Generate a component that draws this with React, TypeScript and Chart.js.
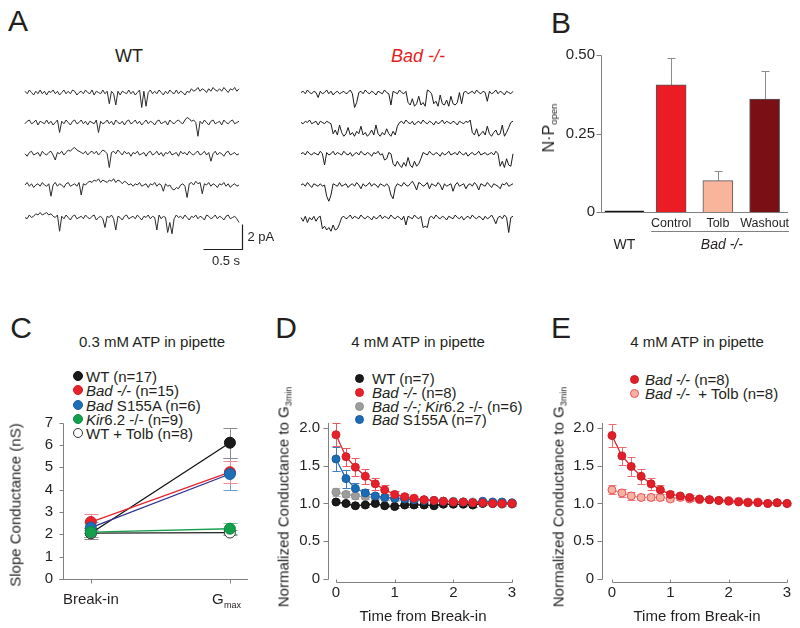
import React, { useEffect, useRef } from "react";
import { Chart, registerables } from "chart.js";

Chart.register(...registerables);

const FONT = "'Liberation Sans', Arial, Helvetica, sans-serif";
const INK = "#231f20";
const AXIS = "#808080";
Chart.defaults.font.family = FONT;
Chart.defaults.color = INK;

/* ---------------- Panel A: single-channel traces (values in 0.1 pA) ---------------- */
const TRACE_DURATION_S = 2.74;
const traceRowOffsets = [-10, -34, -59, -84, -110];

const wtTrace1 = [
  1,-1,2,0,-2,1,-1,2,-1,1, -2,1,0,2,-1,1,-2,0,2,-1, 1,-1,2,1,-2,0,1,-1,2,0, -1,2,-2,1,0,-1,2,-1,1,-9,
  1,-1,-10,1,-2,1,0,-1,2,-1, 1,-2,0,2,-12,1,-11,0,2,-1, 1,-1,2,0,-2,1,-1,2,0,-1, 2,-1,1,0,-2,1,0,3,1,2,
  4,1,3,2,0,3,1,4,2,1, 3,1,4,2,0,3,2,4,1,3,
];
const wtTrace2 = [
  -1,1,2,-1,0,2,-2,1,0,-1, 2,-1,1,-2,0,2,-8,1,-1,2, 0,-2,1,2,-1,0,2,-1,1,-2, 1,0,-1,2,-8,1,-1,0,2,-1,
  1,-2,2,0,-1,1,-2,1,2,-1, 0,2,-1,1,-2,0,2,-1,1,0, -2,1,2,-1,0,1,-2,2,0,-1, 1,2,0,-1,2,4,3,1,2,0,
  -11,1,-1,2,0,-2,1,2,-1,0, 1,-2,2,0,-1,1,2,-1,0,1,
];
const wtTrace3 = [
  0,-2,1,2,-1,0,1,-2,2,0, -1,1,2,-1,-5,1,0,2,-1,1, 3,2,4,5,3,2,1,0,2,-1, 1,2,0,2,-1,1,3,2,0,-11,
  1,2,0,3,1,-1,2,0,1,-2, 1,0,2,-1,0,1,-2,1,2,-1, 0,2,-1,1,-2,1,0,2,-1,0, 1,-2,2,0,1,-1,2,0,-1,1,
  2,-1,0,2,-1,1,-6,0,2,-1, 1,0,-2,1,2,-1,0,1,-1,0,
];
const wtTrace4 = [
  0,2,-1,1,-2,0,1,-1,2,0, -1,1,-9,0,2,-1,1,0,-2,1, 2,-1,0,1,-1,2,-8,1,0,2, 3,2,4,3,5,2,4,3,2,4,
  3,5,2,4,3,1,3,2,0,1, -1,1,0,2,-1,0,1,-2,1,0, 2,-1,1,0,-5,1,-1,0,-3,-4, -2,-3,0,1,-1,-10,1,2,0,3,
  1,2,-7,1,0,2,-1,1,0,-2, 1,0,2,-1,1,-2,0,1,-1,0,
];
const wtTrace5 = [
  0,-1,2,0,1,3,2,4,2,3, 4,2,3,1,0,2,-11,1,-1,2, 0,-2,1,2,-1,0,1,-1,2,0, -1,1,2,-2,0,1,-1,-8,1,0,
  2,-1,-10,1,0,-2,1,2,-1,0, 1,-1,2,0,-2,1,0,2,-1,1, 0,-10,2,-1,1,0,-12,-4,-13,-1, 2,0,1,-1,2,0,-2,1,0,2,
  -1,1,0,-2,2,1,-1,0,2,-1, 1,0,-2,1,2,-1,0,1,-1,-4,
];

const badTrace1 = [
  0,1,-1,2,0,-1,1,0,-4,1, -1,0,2,-1,1,-2,0,1,-1,0, 1,-1,0,2,-1,-12,-8,0,1,-1, 2,0,-1,1,0,-2,1,0,-1,2,
  0,-1,-10,1,0,-1,2,0,-1,1, -8,-10,-5,-11,-9,-3,-10,-8,-11,2, 1,-1,-9,-7,-11,-2,-9,-10,-6,-11, -3,-9,-10,-8,0,-9,0,1,-1,0,
  1,-1,2,0,-1,1,0,-7,1,-1, 0,2,-1,1,0,-2,1,0,-1,1,
];
const badTrace2 = [
  0,-1,1,0,2,-1,0,1,-2,1, 0,-1,1,0,-1,-9,-6,-10,-2,-8, -11,-9,-4,-10,-8,-11,-7,-9,-3,-10, -8,-11,-9,-6,-10,-2,-9,-11,-8,-10,
  -5,-9,-11,-7,-10,-3,0,1,-1,2, 0,-1,1,-2,0,1,-1,2,0,-1, 1,0,-2,1,-1,0,2,-1,1,0, -1,1,0,-2,1,0,-1,1,0,2,
  -8,-10,-5,-11,-9,-7,-10,-3,-9,-11, -8,-6,-10,-9,-2,-11,-8,-4,0,1,
];
const badTrace3 = [
  0,1,-1,2,0,-1,1,0,-1,2, 0,-9,1,-1,0,2,-1,1,0,-1, 2,0,-1,1,-2,0,1,-1,2,0, -1,1,0,-2,1,0,2,-1,0,-5,
  -4,1,0,-8,-10,-6,-9,-11,-7,-10, -3,-9,-11,-6,-10,-8,-4,1,0,-1, 2,0,-1,1,0,-2,1,-1,0,2, -1,0,1,-1,2,0,-1,1,-2,0,
  1,-1,0,2,-1,0,1,-1,0,1, -1,2,0,-10,-6,-11,-4,-9,-10,0,
];
const badTrace4 = [
  0,1,-1,2,0,-2,1,0,-1,1, -1,0,-9,-13,-8,1,0,-1,2,-1, 0,1,-2,0,1,-1,2,0,-3,1, -1,0,2,-1,1,0,-2,1,0,-1,
  1,-1,-8,-11,-2,1,0,-1,2,0, -1,1,3,0,-4,2,1,-1,0,2, -3,1,0,-1,2,0,-4,1,-1,0, 1,-5,0,2,-1,0,1,-3,0,1,
  -1,2,0,-4,1,0,-1,2,0,-2, 1,0,-1,-3,1,0,2,-1,0,1,
];
const badTrace5 = [
  0,-3,1,-4,0,-2,1,-3,0,1, -9,-7,-10,-8,-11,-6,-10,-9,-5,0, 1,-1,0,2,-1,1,0,-1,2,0, -1,1,0,-2,1,-1,0,2,-1,1,
  0,-1,2,0,-1,1,0,-2,1,-6, 1,0,-1,2,0,-1,1,-8,-7,-8, 0,1,-1,2,0,-1,1,0,-2,1, 0,-1,2,0,-1,1,-2,0,1,-1,
  2,0,-1,1,0,-2,1,-1,0,2, -1,-5,0,1,-1,2,0,-12,0,1,
];

const wtTraces = [wtTrace1, wtTrace2, wtTrace3, wtTrace4, wtTrace5];
const badTraces = [badTrace1, badTrace2, badTrace3, badTrace4, badTrace5];

const SCALEBAR_END_S = 2.78;
const SCALEBAR_BASE = -135;
const SCALEBAR_TIME_S = 0.5;
const SCALEBAR_CURRENT = 20; // 2 pA in 0.1 pA units

/* ---------------- Panel B ---------------- */
const bCategories = ["WT", "Control", "Tolb", "Washout"];
const bGroupLabel = "Bad -/-";
const bValues = [0.004, 0.405, 0.1, 0.36];
const bErrors = [0, 0.085, 0.03, 0.09];
const bColors = ["#111111", "#ec1c24", "#f8b59c", "#7a1015"];
const bYTicks = [0, 0.25, 0.5];

/* ---------------- Panel C ---------------- */
const cXTicks = [0, 1]; // Break-in, Gmax
const cYTicks = [0, 1, 2, 3, 4, 5, 6, 7];
const cWT = [2.05, 6.1];
const cWTErr = [0.25, 0.68];
const cBad = [2.55, 4.78];
const cBadErr = [0.35, 0.5];
const cS155A = [2.3, 4.7];
const cS155AErr = [0.25, 0.72];
const cKir = [2.1, 2.25];
const cKirErr = [0.2, 0.25];
const cTolb = [2.05, 2.08];
const cTolbErr = [0.15, 0.12];

/* ---------------- Panels D & E ---------------- */
const timePoints = [0, 0.17, 0.33, 0.5, 0.67, 0.83, 1, 1.17, 1.33, 1.5, 1.67, 1.83, 2, 2.17, 2.33, 2.5, 2.67, 2.83, 3];
const timeTicks = [0, 1, 2, 3];
const normTicks = [0, 0.5, 1, 1.5, 2];

const dBad = [1.91, 1.62, 1.48, 1.36, 1.26, 1.18, 1.12, 1.09, 1.07, 1.05, 1.04, 1.03, 1.02, 1.02, 1.01, 1.01, 1.0, 1.0, 1.0];
const dBadErr = [0.15, 0.12, 0.12, 0.1, 0.08, 0.06, 0.04, 0.03, 0.03, 0.02, 0.02, 0.02, 0.02, 0.02, 0.02, 0.01, 0.01, 0.01, 0.01];
const dS155A = [1.59, 1.33, 1.2, 1.14, 1.1, 1.08, 1.07, 1.06, 1.05, 1.04, 1.04, 1.03, 1.02, 1.02, 1.01, 1.03, 1.02, 1.02, 1.01];
const dS155AErr = [0.16, 0.12, 0.07, 0.05, 0.04, 0.03, 0.03, 0.03, 0.02, 0.02, 0.02, 0.02, 0.02, 0.02, 0.02, 0.02, 0.02, 0.02, 0.02];
const dKir = [1.15, 1.12, 1.1, 1.09, 1.08, 1.07, 1.06, 1.06, 1.05, 1.05, 1.04, 1.03, 1.03, 1.02, 1.02, 1.01, 1.0, 0.99, 0.99];
const dKirErr = [0.05, 0.04, 0.04, 0.03, 0.03, 0.03, 0.03, 0.02, 0.02, 0.02, 0.02, 0.02, 0.02, 0.02, 0.02, 0.02, 0.02, 0.02, 0.02];
const dWT = [1.02, 1.0, 0.97, 0.98, 1.0, 0.97, 0.96, 0.98, 0.98, 0.98, 0.97, 0.99, 0.99, 0.99, 0.98, 1.0, 1.0, 1.0, 1.0];
const dWTErr = [0.02, 0.02, 0.02, 0.02, 0.02, 0.02, 0.02, 0.02, 0.02, 0.02, 0.02, 0.02, 0.02, 0.02, 0.02, 0.02, 0.02, 0.02, 0.02];

const eBad = [1.9, 1.63, 1.49, 1.36, 1.26, 1.18, 1.12, 1.1, 1.08, 1.06, 1.05, 1.04, 1.03, 1.02, 1.01, 1.01, 1.0, 1.01, 1.0];
const eBadErr = [0.15, 0.12, 0.12, 0.1, 0.08, 0.06, 0.04, 0.03, 0.03, 0.02, 0.02, 0.02, 0.02, 0.02, 0.02, 0.02, 0.01, 0.01, 0.01];
const eTolb = [1.18, 1.14, 1.1, 1.08, 1.08, 1.08, 1.06, 1.08, 1.06, 1.05, 1.05, 1.04, 1.04, 1.03, 1.02, 1.02, 1.0, 1.01, 1.0];
const eTolbErr = [0.06, 0.05, 0.05, 0.04, 0.04, 0.04, 0.03, 0.03, 0.03, 0.02, 0.02, 0.02, 0.02, 0.02, 0.02, 0.02, 0.02, 0.02, 0.02];

/* ---------------- helpers ---------------- */
const px = (v: number) => Math.round(v) + 0.5;
const fixedTicks = (values: number[]) => (scale: any) => {
  scale.ticks = values.map((v) => ({ value: v }));
};
const baseOptions = {
  responsive: false,
  animation: false,
  devicePixelRatio: 1,
  events: [],
  plugins: { legend: { display: false }, tooltip: { enabled: false }, title: { display: false } },
};

const errorBarPlugin = {
  id: "errorBars",
  beforeDatasetsDraw(chart: any) {
    const { ctx } = chart;
    const ys = chart.scales.y;
    chart.data.datasets.forEach((ds: any, i: number) => {
      if (!ds.errors) return;
      const meta = chart.getDatasetMeta(i);
      ctx.save();
      ctx.strokeStyle = ds.errColor;
      ctx.lineWidth = 1;
      ctx.beginPath();
      meta.data.forEach((el: any, j: number) => {
        const raw = ds.data[j];
        const val = raw == null ? null : typeof raw === "number" ? raw : raw.y;
        const e = ds.errors[j];
        if (val == null || !e) return;
        const x = px(el.x);
        const top = px(ys.getPixelForValue(val + e));
        const bot = px(ys.getPixelForValue(ds.errUpOnly ? val : val - e));
        const h = ds.capWidth / 2;
        ctx.moveTo(x, bot);
        ctx.lineTo(x, top);
        ctx.moveTo(x - h, top);
        ctx.lineTo(x + h, top);
        if (!ds.errUpOnly) {
          ctx.moveTo(x - h, bot);
          ctx.lineTo(x + h, bot);
        }
      });
      ctx.stroke();
      ctx.restore();
    });
  },
};

/* ---------------- Panel A config ---------------- */
const scaleBarPlugin = {
  id: "scaleBar",
  afterDraw(chart: any) {
    const { ctx, scales } = chart;
    const { x, y } = scales;
    const x1 = px(x.getPixelForValue(SCALEBAR_END_S));
    const x0 = px(x.getPixelForValue(SCALEBAR_END_S - SCALEBAR_TIME_S));
    const yb = px(y.getPixelForValue(SCALEBAR_BASE));
    const yt = px(y.getPixelForValue(SCALEBAR_BASE + SCALEBAR_CURRENT));
    ctx.save();
    ctx.strokeStyle = INK;
    ctx.lineWidth = 1.2;
    ctx.beginPath();
    ctx.moveTo(x0, yb);
    ctx.lineTo(x1, yb);
    ctx.lineTo(x1, yt);
    ctx.stroke();
    ctx.fillStyle = INK;
    ctx.font = `13px ${FONT}`;
    ctx.textBaseline = "middle";
    ctx.textAlign = "left";
    ctx.fillText("2 pA", x1 + 5, (yb + yt) / 2);
    ctx.textAlign = "center";
    ctx.fillText("0.5 s", (x0 + x1) / 2 + 3, yb + 12);
    ctx.restore();
  },
};

function traceConfig(traces: number[][], color: string, padL: number, padR: number, extra: any[]) {
  return {
    type: "line",
    data: {
      datasets: traces.map((t, k) => ({
        data: t.map((v, i) => ({ x: (i * TRACE_DURATION_S) / (t.length - 1), y: v + traceRowOffsets[k] })),
        borderColor: color,
        borderWidth: 1,
        pointRadius: 0,
        tension: 0,
        fill: false,
        clip: false,
      })),
    },
    options: {
      ...baseOptions,
      layout: { padding: { left: padL, right: padR, top: 10, bottom: 40 } },
      scales: {
        x: { type: "linear", display: false, min: 0, max: TRACE_DURATION_S },
        y: { type: "linear", display: false, min: -120, max: 0 },
      },
    },
    plugins: extra,
  };
}

/* ---------------- Panel B config ---------------- */
const barAxesPlugin = {
  id: "barAxes",
  afterDatasetsDraw(chart: any) {
    const { ctx, chartArea, scales } = chart;
    const { x, y } = scales;
    const lx = px(chartArea.left);
    const y0 = px(y.getPixelForValue(0));
    ctx.save();
    ctx.strokeStyle = AXIS;
    ctx.lineWidth = 1;
    ctx.beginPath();
    ctx.moveTo(lx, px(y.getPixelForValue(bYTicks[bYTicks.length - 1])));
    ctx.lineTo(lx, y0);
    bYTicks.forEach((v) => {
      const p = px(y.getPixelForValue(v));
      ctx.moveTo(lx - 5, p);
      ctx.lineTo(lx, p);
    });
    ctx.moveTo(lx, y0);
    ctx.lineTo(chartArea.right, y0);
    const by = px(y0 + 18);
    ctx.moveTo(x.getPixelForValue(1) - 20, by);
    ctx.lineTo(chartArea.right + 1, by);
    ctx.stroke();
    ctx.fillStyle = INK;
    ctx.textAlign = "center";
    ctx.textBaseline = "middle";
    ctx.font = `12.5px ${FONT}`;
    for (let i = 1; i < bCategories.length; i++) ctx.fillText(bCategories[i], x.getPixelForValue(i), y0 + 11);
    ctx.font = `14px ${FONT}`;
    ctx.fillText(bCategories[0], x.getPixelForValue(0), y0 + 33);
    ctx.font = `italic 14px ${FONT}`;
    ctx.fillText(bGroupLabel, x.getPixelForValue(2) + 4, y0 + 33);
    ctx.restore();
  },
};

function barConfig() {
  return {
    type: "bar",
    data: {
      labels: bCategories,
      datasets: [
        {
          data: bValues.map((v, i) => (i === 0 ? v : null)),
          backgroundColor: bColors,
          borderColor: "#333",
          borderWidth: 1,
          barThickness: 39,
          grouped: false,
        },
        {
          data: bValues.map((v, i) => (i === 0 ? null : v)),
          backgroundColor: bColors,
          borderColor: "#555",
          borderWidth: 1,
          barThickness: 30,
          grouped: false,
          errors: bErrors,
          errColor: "#8c8c8c",
          capWidth: 8,
          errUpOnly: true,
        },
      ],
    },
    options: {
      ...baseOptions,
      layout: { padding: { left: 0, right: 12, top: 13, bottom: 0 } },
      scales: {
        x: {
          grid: { display: false, drawTicks: false },
          border: { display: false },
          ticks: { display: false },
          afterFit: (s: any) => {
            s.height = 48;
          },
        },
        y: {
          min: 0,
          max: 0.5,
          grid: { display: false, drawTicks: false },
          border: { display: false },
          ticks: {
            font: { size: 15, family: FONT },
            color: INK,
            padding: 6,
            callback: (v: any) => (v === 0 ? "0" : Number(v).toFixed(2)),
          },
          afterBuildTicks: fixedTicks(bYTicks),
          afterFit: (s: any) => {
            s.width = 61;
          },
        },
      },
    },
    plugins: [errorBarPlugin, barAxesPlugin],
  };
}

/* ---------------- Panel C config ---------------- */
const cAxesPlugin = {
  id: "cAxes",
  beforeDatasetsDraw(chart: any) {
    const { ctx, chartArea, scales } = chart;
    const { x, y } = scales;
    const lx = px(chartArea.left);
    const y0 = px(y.getPixelForValue(0));
    ctx.save();
    ctx.strokeStyle = AXIS;
    ctx.lineWidth = 1;
    ctx.beginPath();
    ctx.moveTo(lx, px(y.getPixelForValue(cYTicks[cYTicks.length - 1])));
    ctx.lineTo(lx, y0);
    cYTicks.forEach((v) => {
      const p = px(y.getPixelForValue(v));
      ctx.moveTo(lx - 4, p);
      ctx.lineTo(lx, p);
    });
    ctx.moveTo(lx - 4, y0);
    ctx.lineTo(chartArea.right, y0);
    cXTicks.forEach((v) => {
      const p = px(x.getPixelForValue(v));
      ctx.moveTo(p, y0);
      ctx.lineTo(p, y0 + 4);
    });
    ctx.stroke();
    ctx.fillStyle = INK;
    ctx.textBaseline = "middle";
    ctx.textAlign = "center";
    ctx.font = `15px ${FONT}`;
    ctx.fillText("Break-in", x.getPixelForValue(cXTicks[0]), y0 + 20);
    const gx = x.getPixelForValue(cXTicks[1]);
    ctx.textAlign = "left";
    ctx.fillText("G", gx - 18, y0 + 20);
    ctx.font = `9px ${FONT}`;
    ctx.fillText("max", gx - 6, y0 + 26);
    ctx.restore();
  },
};

function cConfig() {
  const series = [
    { v: cKir, e: cKirErr, line: "#1a9f4f", fill: "#12a04d", stroke: "#0e8a41", err: "#6cc495" },
    { v: cS155A, e: cS155AErr, line: "#2e3192", fill: "#1e6fb6", stroke: "#1a5f9e", err: "#6a9fd6" },
    { v: cBad, e: cBadErr, line: "#e3252d", fill: "#e8212b", stroke: "#d01d26", err: "#f28a8f" },
    { v: cTolb, e: cTolbErr, line: "#222222", fill: "#ffffff", stroke: "#333333", err: "#999999" },
    { v: cWT, e: cWTErr, line: "#111111", fill: "#1a1a1a", stroke: "#111111", err: "#8c8c8c" },
  ];
  return {
    type: "line",
    data: {
      datasets: series.map((s) => ({
        data: s.v.map((v, i) => ({ x: cXTicks[i], y: v })),
        borderColor: s.line,
        borderWidth: 1.3,
        pointRadius: 5.5,
        pointBackgroundColor: s.fill,
        pointBorderColor: s.stroke,
        pointBorderWidth: 1,
        tension: 0,
        clip: false,
        errors: s.e,
        errColor: s.err,
        capWidth: 14,
      })),
    },
    options: {
      ...baseOptions,
      layout: { padding: { left: 0, right: 12, top: 42.6, bottom: 0 } },
      scales: {
        x: {
          type: "linear",
          min: -0.2,
          max: 1.13,
          grid: { display: false, drawTicks: false },
          border: { display: false },
          ticks: { display: false },
          afterBuildTicks: fixedTicks(cXTicks),
          afterFit: (s: any) => {
            s.height = 41;
          },
        },
        y: {
          min: 0,
          max: 7,
          grid: { display: false, drawTicks: false },
          border: { display: false },
          ticks: { font: { size: 15, family: FONT }, color: INK, padding: 10 },
          afterBuildTicks: fixedTicks(cYTicks),
          afterFit: (s: any) => {
            s.width = 63;
          },
        },
      },
    },
    plugins: [errorBarPlugin, cAxesPlugin],
  };
}

/* ---------------- Panels D/E config ---------------- */
const timeAxesPlugin = {
  id: "timeAxes",
  beforeDatasetsDraw(chart: any) {
    const { ctx, chartArea, scales } = chart;
    const { x, y } = scales;
    const lx = px(chartArea.left);
    const y0 = y.getPixelForValue(0);
    ctx.save();
    ctx.strokeStyle = AXIS;
    ctx.lineWidth = 1;
    ctx.beginPath();
    ctx.moveTo(lx, chartArea.top);
    ctx.lineTo(lx, px(y0));
    normTicks.forEach((v) => {
      const p = px(y.getPixelForValue(v));
      ctx.moveTo(lx - 5, p);
      ctx.lineTo(lx, p);
    });
    const ax = px(y0 + 3);
    ctx.moveTo(px(x.getPixelForValue(timeTicks[0])), ax);
    ctx.lineTo(px(x.getPixelForValue(timeTicks[timeTicks.length - 1])), ax);
    timeTicks.forEach((v) => {
      const p = px(x.getPixelForValue(v));
      ctx.moveTo(p, ax);
      ctx.lineTo(p, ax - 3);
    });
    ctx.stroke();
    ctx.restore();
  },
};

type Series = { v: number[]; e: number[]; line: string; fill: string; stroke: string; err: string };

function timeConfig(series: Series[], xMin: number, xMax: number, padRight: number) {
  return {
    type: "line",
    data: {
      datasets: series.map((s) => ({
        data: s.v.map((v, i) => ({ x: timePoints[i], y: v })),
        borderColor: s.line,
        borderWidth: 1.3,
        pointRadius: 4,
        pointBackgroundColor: s.fill,
        pointBorderColor: s.stroke,
        pointBorderWidth: 1,
        tension: 0,
        clip: false,
        errors: s.e,
        errColor: s.err,
        capWidth: 8,
      })),
    },
    options: {
      ...baseOptions,
      layout: { padding: { left: 0, right: padRight, top: 43, bottom: 0 } },
      scales: {
        x: {
          type: "linear",
          min: xMin,
          max: xMax,
          grid: { display: false, drawTicks: false },
          border: { display: false },
          ticks: { font: { size: 15, family: FONT }, color: INK, padding: 5 },
          afterBuildTicks: fixedTicks(timeTicks),
          afterFit: (s: any) => {
            s.height = 41;
          },
        },
        y: {
          min: 0,
          max: 2.066,
          grid: { display: false, drawTicks: false },
          border: { display: false },
          ticks: {
            font: { size: 15, family: FONT },
            color: INK,
            padding: 8,
            callback: (v: any) => (v === 0 ? "0" : Number(v).toFixed(1)),
          },
          afterBuildTicks: fixedTicks(normTicks),
          afterFit: (s: any) => {
            s.width = 66;
          },
        },
      },
    },
    plugins: [errorBarPlugin, timeAxesPlugin],
  };
}

const dSeries: Series[] = [
  { v: dBad, e: dBadErr, line: "#e3232c", fill: "#e8202a", stroke: "#cf1f28", err: "#ec5a61" },
  { v: dS155A, e: dS155AErr, line: "#1f6cb4", fill: "#1b6bb5", stroke: "#1a5d9c", err: "#3a7fc4" },
  { v: dWT, e: dWTErr, line: "#222222", fill: "#1a1a1a", stroke: "#111111", err: "#555555" },
  { v: dKir, e: dKirErr, line: "#a8a8a8", fill: "#9d9d9d", stroke: "#8f8f8f", err: "#b5b5b5" },
];
const eSeries: Series[] = [
  { v: eBad, e: eBadErr, line: "#d7242b", fill: "#e21f29", stroke: "#c81e26", err: "#ec6a70" },
  { v: eTolb, e: eTolbErr, line: "#f08a88", fill: "#f6b39f", stroke: "#e8505a", err: "#f07a80" },
];

/* ---------------- React components ---------------- */
function ChartCanvas({ left, top, width, height, build }: { left: number; top: number; width: number; height: number; build: () => any }) {
  const ref = useRef<HTMLCanvasElement>(null);
  useEffect(() => {
    const chart = new Chart(ref.current as HTMLCanvasElement, build());
    return () => chart.destroy();
  }, []);
  return <canvas ref={ref} width={width} height={height} style={{ position: "absolute", left, top, width, height }} />;
}

type TP = { x: number; y: number; size?: number; anchor?: "start" | "middle"; rotate?: boolean; italic?: boolean; color?: string; children: React.ReactNode };
function T({ x, y, size = 15, anchor = "start", rotate, italic, color = INK, children }: TP) {
  const transform = rotate ? "translate(-50%,-50%) rotate(-90deg)" : anchor === "middle" ? "translate(-50%,-50%)" : "translate(0,-50%)";
  return (
    <div
      style={{
        position: "absolute",
        left: x,
        top: y,
        fontSize: size,
        lineHeight: 1,
        whiteSpace: "nowrap",
        color,
        fontStyle: italic ? "italic" : "normal",
        transform,
      }}
    >
      {children}
    </div>
  );
}

function Sub({ children }: { children: React.ReactNode }) {
  return <span style={{ fontSize: "0.6em", position: "relative", top: "0.35em", lineHeight: 0 }}>{children}</span>;
}

function LegendRow({ x, y, r, fill, stroke, textX, children }: { x: number; y: number; r: number; fill: string; stroke: string; textX: number; children: React.ReactNode }) {
  return (
    <>
      <div
        style={{
          position: "absolute",
          left: x - r,
          top: y - r,
          width: 2 * r,
          height: 2 * r,
          borderRadius: "50%",
          background: fill,
          border: `1px solid ${stroke}`,
          boxSizing: "border-box",
        }}
      />
      <T x={textX} y={y}>
        {children}
      </T>
    </>
  );
}

export default function App() {
  useEffect(() => {
    document.body.style.margin = "0";
  }, []);
  return (
    <div style={{ position: "absolute", left: 0, top: 0, width: 800, height: 628, background: "#fff", overflow: "hidden", fontFamily: FONT, color: INK }}>
      {/* Panel letters */}
      <T x={18} y={21} size={30} anchor="middle">A</T>
      <T x={561} y={23} size={30} anchor="middle">B</T>
      <T x={21} y={328} size={30} anchor="middle">C</T>
      <T x={286} y={328} size={30} anchor="middle">D</T>
      <T x={561} y={328} size={30} anchor="middle">E</T>

      {/* Panel A */}
      <T x={129} y={56} size={18} anchor="middle">WT</T>
      <T x={418} y={56} size={18} anchor="middle" italic color="#e31e25">Bad -/-</T>
      <ChartCanvas left={20} top={70} width={260} height={200} build={() => traceConfig(wtTraces, "#2a2a2a", 5, 41, [scaleBarPlugin])} />
      <ChartCanvas left={296} top={70} width={240} height={200} build={() => traceConfig(badTraces, "#1a1a1a", 5, 23, [])} />

      {/* Panel B */}
      <ChartCanvas left={540} top={40} width={260} height={220} build={barConfig} />
      <T x={549} y={128} size={16} rotate>
        N·P<Sub>open</Sub>
      </T>

      {/* Panel C */}
      <T x={152} y={341} anchor="middle">0.3 mM ATP in pipette</T>
      <LegendRow x={78} y={376} r={5} fill="#1a1a1a" stroke="#111" textX={86}>WT (n=17)</LegendRow>
      <LegendRow x={78} y={390} r={5} fill="#e8212b" stroke="#d01d26" textX={86}>
        <i>Bad -/-</i> (n=15)
      </LegendRow>
      <LegendRow x={78} y={405} r={5} fill="#1e6fb6" stroke="#1a5f9e" textX={86}>
        <i>Bad</i> S155A (n=6)
      </LegendRow>
      <LegendRow x={78} y={419} r={5} fill="#12a04d" stroke="#0e8a41" textX={86}>
        <i>Kir</i>6.2 -/- (n=9)
      </LegendRow>
      <LegendRow x={78} y={433} r={5} fill="#ffffff" stroke="#333" textX={86}>WT + Tolb (n=8)</LegendRow>
      <ChartCanvas left={0} top={380} width={260} height={240} build={cConfig} />
      <T x={15} y={505} rotate>Slope Conductance (nS)</T>

      {/* Panel D */}
      <T x={418} y={341} anchor="middle">4 mM ATP in pipette</T>
      <LegendRow x={359} y={378} r={4.5} fill="#1a1a1a" stroke="#111" textX={372}>WT (n=7)</LegendRow>
      <LegendRow x={359} y={392} r={4.5} fill="#e8202a" stroke="#cf1f28" textX={372}>
        <i>Bad -/-</i> (n=8)
      </LegendRow>
      <LegendRow x={359} y={406} r={4.5} fill="#9d9d9d" stroke="#8f8f8f" textX={372}>
        <i>Bad -/-; Kir</i>6.2 -/- (n=6)
      </LegendRow>
      <LegendRow x={359} y={419} r={4.5} fill="#1b6bb5" stroke="#1a5d9c" textX={372}>
        <i>Bad</i> S155A (n=7)
      </LegendRow>
      <ChartCanvas left={262} top={380} width={268} height={240} build={() => timeConfig(dSeries, -0.136, 3.136, 10)} />
      <T x={283} y={497} rotate>
        Normalized Conductance to G<Sub>3min</Sub>
      </T>
      <T x={423} y={615} anchor="middle">Time from Break-in</T>

      {/* Panel E */}
      <T x={697} y={341} anchor="middle">4 mM ATP in pipette</T>
      <LegendRow x={634} y={379} r={4.5} fill="#e21f29" stroke="#c81e26" textX={645}>
        <i>Bad -/-</i> (n=8)
      </LegendRow>
      <LegendRow x={634} y={393} r={4.5} fill="#f6b39f" stroke="#e8505a" textX={645}>
        <i>Bad -/-</i>&nbsp; + Tolb (n=8)
      </LegendRow>
      <ChartCanvas left={536} top={380} width={264} height={240} build={() => timeConfig(eSeries, -0.171, 3.137, 5)} />
      <T x={558} y={497} rotate>
        Normalized Conductance to G<Sub>3min</Sub>
      </T>
      <T x={697} y={615} anchor="middle">Time from Break-in</T>
    </div>
  );
}
